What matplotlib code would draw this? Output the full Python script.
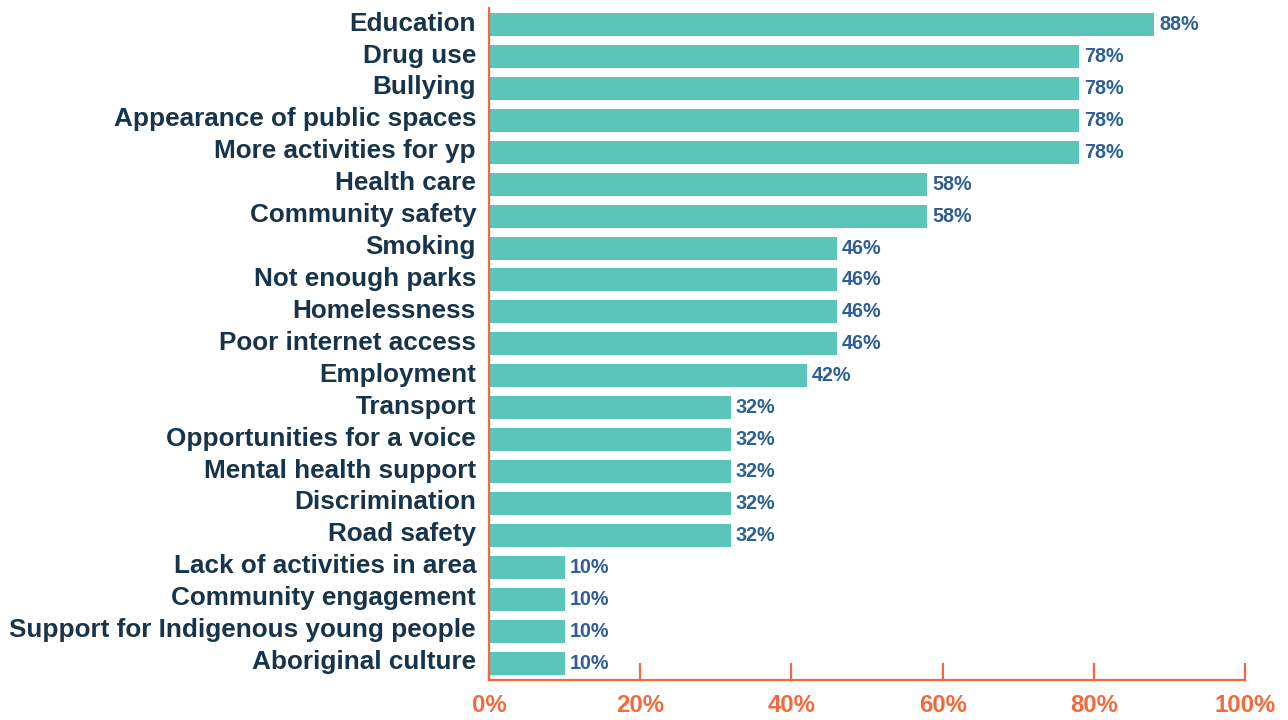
import matplotlib
matplotlib.use("Agg")
import matplotlib.pyplot as plt
from matplotlib import font_manager as fm
from matplotlib.transforms import ScaledTranslation, blended_transform_factory
import numpy as np

categories = ["Education", "Drug use", "Bullying", "Appearance of public spaces",
              "More activities for yp", "Health care", "Community safety", "Smoking",
              "Not enough parks", "Homelessness", "Poor internet access", "Employment",
              "Transport", "Opportunities for a voice", "Mental health support",
              "Discrimination", "Road safety", "Lack of activities in area",
              "Community engagement", "Support for Indigenous young people",
              "Aboriginal culture"]
values = [88, 78, 78, 78, 78, 58, 58, 46, 46, 46, 46, 42, 32, 32, 32, 32, 32, 10, 10, 10, 10]
xticks = [0, 20, 40, 60, 80, 100]
xticklabels = ["0%", "20%", "40%", "60%", "80%", "100%"]

bold_path = None
for f in fm.fontManager.ttflist:
    if f.fname.endswith("LiberationSans-Bold.ttf"):
        bold_path = f.fname
        break

def fp(size):
    if bold_path:
        return fm.FontProperties(fname=bold_path, size=size)
    return fm.FontProperties(family="DejaVu Sans", weight="bold", size=size)

BAR = "#5bc5b9"
ORANGE = "#f26a3b"
NAVY = "#17344a"
BLUE = "#2e5f94"

fig = plt.figure(figsize=(12.88, 7.2), dpi=100)
ax = fig.add_axes([489/1288, 1-680/720, (1245-489)/1288, (680-8)/720])

y = np.arange(len(categories))
ax.barh(y, values, height=0.72, color=BAR)

val_tr = ax.transData + ScaledTranslation(5/100, -5.5/100, fig.dpi_scale_trans)
for yi, v in zip(y, values):
    ax.text(v, yi, f"{v}%", va="baseline", ha="left", transform=val_tr,
            fontproperties=fp(14.2), color=BLUE)

lab_tr = blended_transform_factory(ax.transAxes, ax.transData) + \
    ScaledTranslation(-13/100, -6/100, fig.dpi_scale_trans)
for yi, c in zip(y, categories):
    ax.text(0, yi, c, va="baseline", ha="right", transform=lab_tr,
            fontproperties=fp(18.8), color=NAVY)

ax.set_xlim(0, 100)
ax.set_ylim(len(categories) - 0.47, -0.52)
ax.set_yticks([])
ax.set_xticks(xticks)
ax.set_xticklabels(xticklabels, color=ORANGE)
for t in ax.get_xticklabels():
    t.set_fontproperties(fp(17.2))
ax.tick_params(axis="x", direction="in", length=12, width=1.6, color=ORANGE, pad=10)
for s in ["top", "right"]:
    ax.spines[s].set_visible(False)
for s in ["left", "bottom"]:
    ax.spines[s].set_color(ORANGE)
    ax.spines[s].set_linewidth(1.6)

fig.savefig("out.png", dpi=100)
